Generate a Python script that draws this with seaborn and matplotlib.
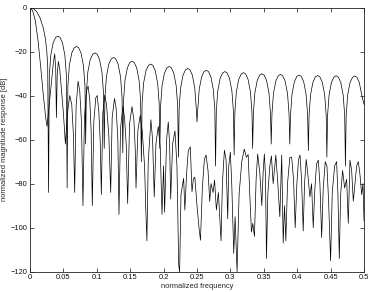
import matplotlib
matplotlib.use("Agg")
import matplotlib.pyplot as plt
import seaborn as sns
import pandas as pd

# upper curve: main lobe + 17 side lobes
upper_f = [
    0.0000, 0.0050, 0.0100, 0.0150, 0.0200, 0.0230, 0.0250, 0.0265,
    0.0278, 0.0289, 0.0311, 0.0347, 0.0384, 0.0417, 0.0450, 0.0486, 0.0522, 0.0545,
    0.0556, 0.0567, 0.0589, 0.0625, 0.0662, 0.0695, 0.0728, 0.0764, 0.0800, 0.0823,
    0.0833, 0.0844, 0.0866, 0.0902, 0.0939, 0.0972, 0.1005, 0.1041, 0.1077, 0.1100,
    0.1111, 0.1122, 0.1144, 0.1180, 0.1217, 0.1250, 0.1283, 0.1319, 0.1355, 0.1378,
    0.1389, 0.1400, 0.1422, 0.1458, 0.1495, 0.1528, 0.1561, 0.1597, 0.1633, 0.1656,
    0.1667, 0.1678, 0.1700, 0.1736, 0.1773, 0.1806, 0.1839, 0.1875, 0.1911, 0.1934,
    0.1944, 0.1955, 0.1977, 0.2013, 0.2050, 0.2083, 0.2116, 0.2152, 0.2188, 0.2211,
    0.2222, 0.2233, 0.2255, 0.2291, 0.2328, 0.2361, 0.2394, 0.2430, 0.2466, 0.2489,
    0.2500, 0.2511, 0.2533, 0.2569, 0.2606, 0.2639, 0.2672, 0.2708, 0.2744, 0.2767,
    0.2778, 0.2789, 0.2811, 0.2847, 0.2884, 0.2917, 0.2950, 0.2986, 0.3022, 0.3045,
    0.3056, 0.3067, 0.3089, 0.3125, 0.3162, 0.3195, 0.3228, 0.3264, 0.3300, 0.3323,
    0.3333, 0.3344, 0.3366, 0.3402, 0.3439, 0.3472, 0.3505, 0.3541, 0.3577, 0.3600,
    0.3611, 0.3622, 0.3644, 0.3680, 0.3717, 0.3750, 0.3783, 0.3819, 0.3855, 0.3878,
    0.3889, 0.3900, 0.3922, 0.3958, 0.3995, 0.4028, 0.4061, 0.4097, 0.4133, 0.4156,
    0.4167, 0.4178, 0.4200, 0.4236, 0.4273, 0.4306, 0.4339, 0.4375, 0.4411, 0.4434,
    0.4444, 0.4455, 0.4477, 0.4513, 0.4550, 0.4583, 0.4616, 0.4652, 0.4688, 0.4711,
    0.4722, 0.4733, 0.4755, 0.4791, 0.4828, 0.4861, 0.4894, 0.4930, 0.4966, 0.5000,
]
upper_db = [
    0.0, -0.5, -1.9, -4.7, -9.4, -14.1, -19.2, -26.3,
    -84, -31.0, -21.7, -16.0, -13.6, -13.0, -13.6, -16.0, -21.7, -31.0,
    -82, -35.7, -26.4, -20.7, -18.3, -17.7, -18.3, -20.7, -26.4, -35.7,
    -62, -38.6, -29.3, -23.6, -21.2, -20.6, -21.2, -23.6, -29.3, -38.6,
    -64, -40.7, -31.4, -25.7, -23.3, -22.7, -23.3, -25.7, -31.4, -40.7,
    -66, -42.4, -33.1, -27.4, -25.0, -24.4, -25.0, -27.4, -33.1, -42.4,
    -70, -43.7, -34.4, -28.7, -26.3, -25.7, -26.3, -28.7, -34.4, -43.7,
    -64, -44.8, -35.5, -29.8, -27.4, -26.8, -27.4, -29.8, -35.5, -44.8,
    -68, -45.7, -36.4, -30.7, -28.3, -27.7, -28.3, -30.7, -36.4, -45.7,
    -52, -46.5, -37.2, -31.5, -29.1, -28.5, -29.1, -31.5, -37.2, -46.5,
    -72, -47.1, -37.8, -32.1, -29.7, -29.1, -29.7, -32.1, -37.8, -47.1,
    -67, -47.6, -38.3, -32.6, -30.2, -29.6, -30.2, -32.6, -38.3, -47.6,
    -64, -48.1, -38.8, -33.1, -30.7, -30.1, -30.7, -33.1, -38.8, -48.1,
    -62, -48.4, -39.1, -33.4, -31.0, -30.4, -31.0, -33.4, -39.1, -48.4,
    -62, -48.7, -39.4, -33.7, -31.3, -30.7, -31.3, -33.7, -39.4, -48.7,
    -65, -48.9, -39.6, -33.9, -31.5, -30.9, -31.5, -33.9, -39.6, -48.9,
    -68, -49.0, -39.7, -34.0, -31.6, -31.0, -31.6, -34.0, -39.7, -49.0,
    -72, -49.1, -39.8, -34.1, -31.7, -31.1, -31.7, -34.1, -39.8, -44.0,
]

# lower curve (irregular response), extrema
lower_f = [
    0.0000, 0.0040, 0.0080, 0.0120, 0.0160, 0.0200, 0.0235, 0.0255, 0.0285, 0.0320,
    0.0350, 0.0370, 0.0385, 0.0395, 0.0408, 0.0425, 0.0445, 0.0470, 0.0500, 0.0530,
    0.0560, 0.0595, 0.0625, 0.0650, 0.0669, 0.0690, 0.0720, 0.0745, 0.0770, 0.0793,
    0.0815, 0.0845, 0.0870, 0.0895, 0.0915, 0.0933, 0.0955, 0.0985, 0.1005, 0.1030,
    0.1050, 0.1068, 0.1090, 0.1120, 0.1145, 0.1180, 0.1208, 0.1230, 0.1265, 0.1290,
    0.1315, 0.1332, 0.1355, 0.1390, 0.1415, 0.1440, 0.1462, 0.1490, 0.1527, 0.1555,
    0.1575, 0.1587, 0.1615, 0.1650, 0.1680, 0.1715, 0.1735, 0.1750, 0.1770, 0.1810,
    0.1835, 0.1860, 0.1885, 0.1920, 0.1950, 0.1976, 0.2000, 0.2015, 0.2045, 0.2070,
    0.2090, 0.2106, 0.2135, 0.2170, 0.2200, 0.2226, 0.2240, 0.2260, 0.2300, 0.2318,
    0.2345, 0.2370, 0.2400, 0.2425, 0.2445, 0.2467, 0.2500, 0.2530, 0.2552, 0.2580,
    0.2610, 0.2635, 0.2665, 0.2690, 0.2710, 0.2740, 0.2763, 0.2790, 0.2820, 0.2860,
    0.2880, 0.2910, 0.2935, 0.2960, 0.2975, 0.2999, 0.3020, 0.3050, 0.3070, 0.3100,
    0.3130, 0.3170, 0.3208, 0.3240, 0.3266, 0.3290, 0.3315, 0.3335, 0.3360, 0.3385,
    0.3408, 0.3440, 0.3470, 0.3490, 0.3508, 0.3525, 0.3540, 0.3560, 0.3590, 0.3614,
    0.3640, 0.3680, 0.3710, 0.3740, 0.3768, 0.3790, 0.3810, 0.3830, 0.3855, 0.3890,
    0.3917, 0.3945, 0.3970, 0.3995, 0.4020, 0.4042, 0.4065, 0.4090, 0.4110, 0.4135,
    0.4160, 0.4190, 0.4215, 0.4240, 0.4265, 0.4290, 0.4316, 0.4340, 0.4366, 0.4390,
    0.4420, 0.4445, 0.4470, 0.4500, 0.4525, 0.4560, 0.4590, 0.4610, 0.4630, 0.4650,
    0.4680, 0.4710, 0.4740, 0.4765, 0.4790, 0.4815, 0.4840, 0.4865, 0.4890, 0.4915,
    0.4940, 0.4965, 0.4985, 0.5000,
]
lower_db = [
    0.0, -1.5, -6.0, -15.0, -27.0, -40.0, -50.0, -54.0, -45.0, -34.0,
    -25.0, -21.0, -28.0, -50.0, -30.0, -24.5, -28.0, -37.0, -48.0, -62.0,
    -48.0, -40.0, -44.0, -58.0, -84.0, -45.0, -33.5, -38.0, -52.0, -90.0,
    -50.0, -38.0, -35.7, -42.0, -56.0, -90.0, -52.0, -41.0, -40.0, -47.0,
    -60.0, -85.0, -48.0, -39.8, -44.0, -58.0, -84.0, -50.0, -41.3, -46.0,
    -60.0, -94.0, -55.0, -45.0, -50.0, -62.0, -89.0, -53.0, -45.0, -51.0,
    -64.0, -82.0, -56.0, -49.0, -56.0, -72.0, -93.0, -106.0, -70.0, -51.0,
    -60.0, -86.0, -62.0, -54.0, -64.0, -94.0, -72.0, -93.0, -60.0, -52.0,
    -62.0, -87.0, -62.0, -56.0, -72.0, -117.0, -120.0, -85.0, -77.6, -92.0,
    -75.0, -65.0, -63.3, -83.7, -78.0, -77.0, -90.0, -100.0, -105.7, -82.0,
    -69.0, -67.0, -74.0, -88.0, -80.0, -84.0, -78.4, -92.0, -84.0, -106.0,
    -80.0, -64.8, -69.0, -96.0, -72.0, -65.7, -80.0, -111.7, -95.0, -120.0,
    -85.0, -70.0, -64.3, -68.0, -66.8, -85.0, -102.0, -98.0, -104.0, -78.0,
    -66.5, -75.0, -90.0, -75.0, -66.5, -76.0, -114.0, -85.0, -72.0, -67.4,
    -80.0, -67.0, -80.0, -95.0, -67.0, -107.0, -90.0, -106.0, -80.0, -68.0,
    -68.0, -78.0, -100.0, -80.0, -69.0, -67.0, -78.0, -101.5, -80.0, -69.0,
    -76.0, -86.0, -80.0, -100.0, -82.0, -71.0, -69.3, -80.0, -104.5, -82.0,
    -70.0, -72.0, -88.0, -115.0, -84.0, -72.0, -70.0, -85.0, -114.0, -85.0,
    -74.0, -82.0, -78.0, -98.0, -69.3, -74.0, -88.0, -80.0, -72.0, -70.0,
    -76.0, -85.0, -80.0, -97.0,
]

xticks = [0, 0.05, 0.1, 0.15, 0.2, 0.25, 0.3, 0.35, 0.4, 0.45, 0.5]
xtick_labels = ["0", "0.05", "0.1", "0.15", "0.2", "0.25", "0.3", "0.35", "0.4", "0.45", "0.5"]
yticks = [-120, -100, -80, -60, -40, -20, 0]

sns.set_style("ticks")
plt.rcParams['font.family'] = ['Liberation Sans', 'DejaVu Sans']

fig = plt.figure(figsize=(3.74, 2.92), dpi=100)
ax = fig.add_axes([30 / 374, 1 - 271.7 / 292, 334 / 374, 264.2 / 292])

df_up = pd.DataFrame({"f": upper_f, "db": upper_db})
df_lo = pd.DataFrame({"f": lower_f, "db": lower_db})
sns.lineplot(data=df_lo, x="f", y="db", ax=ax, color="black", lw=0.5,
             sort=False, estimator=None)
sns.lineplot(data=df_up, x="f", y="db", ax=ax, color="black", lw=0.5,
             sort=False, estimator=None)

ax.set_xlim(0, 0.5)
ax.set_ylim(-120, 0)
ax.set_xticks(xticks)
ax.set_xticklabels(xtick_labels)
ax.set_yticks(yticks)
ax.tick_params(direction="in", top=True, right=True, length=3, width=0.5,
               labelsize=5.4, pad=2, colors="#111111")
for s in ax.spines.values():
    s.set_linewidth(0.6)
    s.set_color("#222222")
ax.set_xlabel("normalized frequency", fontsize=5.4, labelpad=1)
ax.set_ylabel("normalized magnitude response [dB]", fontsize=5.4, labelpad=2)

fig.savefig("out.png", dpi=100)
